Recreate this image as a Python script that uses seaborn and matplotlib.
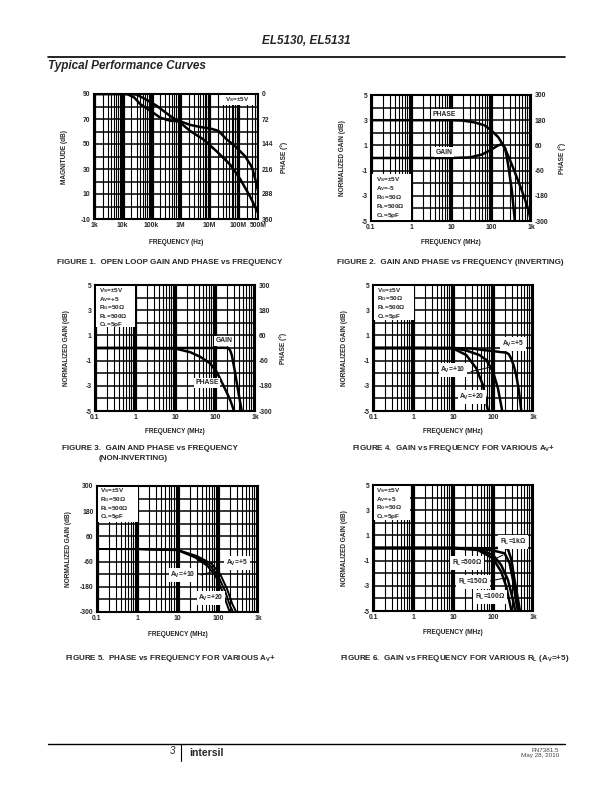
"""
Typical performance curves page (EL5130, EL5131), redrawn with seaborn.
"""
import numpy as np
import matplotlib
matplotlib.use('Agg')
import matplotlib.pyplot as plt
from matplotlib.lines import Line2D
from matplotlib.patches import Rectangle
from matplotlib.ticker import FixedLocator, LogLocator, NullFormatter
import seaborn as sns

# ---- Figure 1: open loop gain (dB) and phase (deg) vs frequency (Hz)
f1_mag = [1e3, 1e4, 2e4, 3e4, 6e4, 1.5e5, 4.4e5, 1e6, 2.2e6, 6.3e6, 1.8e7,
          5.4e7, 1.2e8, 2.65e8, 5e8]
mag1 = [90, 90, 89.8, 89.5, 86, 80.6, 72.5, 67, 60.4, 53.7, 44.3, 33.5, 22,
        8, -5]
f1_ph = [1e3, 1.4e4, 2.5e4, 4e4, 9e4, 2e5, 4.4e5, 1e6, 2.2e6, 4.9e6, 1.07e7,
         2.1e7, 4.1e7, 7.9e7, 1.77e8, 2.8e8, 3.2e8, 4e8, 5e8]
phase1 = [0, 0, 10, 29, 48, 68, 77, 79, 89, 95, 99, 106, 131, 150, 179, 205,
          215, 245, 278]

# ---- Figure 2: inverting gain (dB) and phase (deg), MHz
f2_gain = [0.1, 1, 10, 30, 60, 100, 150, 190, 225, 270, 330, 395]
gain2 = [0, 0, 0, 0.05, 0.28, 0.65, 1.0, 1.1, 0.8, -0.6, -2.5, -5]
f2_ph = [0.1, 1, 10, 20, 40, 70, 105, 150, 185, 230, 270, 330, 400, 480,
         580, 700, 860, 1000]
phase2 = [180, 180, 180, 178, 169, 155, 129, 100, 73, 40, 9, -30, -71, -110,
          -151, -195, -247, -300]

# ---- Figure 3: non-inverting gain (dB) and phase (deg), MHz
f3_gain = [0.1, 1, 10, 100, 150, 215, 240, 263, 316, 383, 466]
gain3 = [0, 0, 0, 0, 0.02, 0, -0.2, -0.56, -1.9, -3.5, -5]
f3_ph = [0.1, 1, 10, 24, 42, 75, 110, 160, 200, 240, 300]
phase3 = [0, 0, -2, -20, -41, -73, -113, -176, -215, -248, -300]

# ---- Figure 4: gain for various Av+
f4_av5 = [0.1, 1, 10, 30, 100, 215, 250, 282, 330, 380, 440, 510]
g4_av5 = [0, 0, 0, -0.05, -0.25, -0.37, -0.5, -0.82, -1.4, -2.14, -3.3, -5]
f4_av10 = [0.1, 1, 10, 21.5, 46, 68, 100, 133, 170]
g4_av10 = [0, 0, 0, -0.2, -0.56, -0.95, -1.88, -3.2, -5]
f4_av20 = [0.1, 1, 10, 21.5, 38, 56, 75]
g4_av20 = [0, 0, -0.03, -0.56, -1.6, -2.94, -5]

# ---- Figure 5: phase for various Av+
f5_av5 = [0.1, 1, 10, 30, 70, 115, 170, 230, 288]
p5_av5 = [0, 0, -4, -33, -70, -120, -190, -262, -300]
f5_av10 = [0.1, 1, 10, 29, 63, 100, 150, 200, 240]
p5_av10 = [0, 0, -5, -37, -77, -125, -197, -268, -300]
f5_av20 = [0.1, 1, 10, 27, 55, 88, 130, 170, 198]
p5_av20 = [0, -1, -6, -40, -80, -128, -200, -265, -300]

# ---- Figure 6: gain for various RL (Av=+5)
f6_1k = [0.1, 1, 10, 100, 200, 237, 290, 345, 425, 470]
g6_1k = [0, 0, 0, -0.02, 0.05, -0.1, -0.95, -2.54, -4.13, -5]
f6_500 = [0.1, 1, 10, 50, 100, 195, 260, 316, 385, 420]
g6_500 = [0, 0, 0, -0.08, -0.2, -0.42, -1.2, -2.54, -4.4, -5]
f6_150 = [0.1, 1, 10, 42, 100, 160, 237, 316, 360]
g6_150 = [0, 0, 0, -0.08, -0.56, -1.35, -2.54, -4.13, -5]
f6_100 = [0.1, 1, 10, 42, 100, 160, 215, 290]
g6_100 = [0, 0, -0.02, -0.16, -0.82, -1.88, -3.07, -5]

# tick values / labels
hz_ticks = [1e3, 1e4, 1e5, 1e6, 1e7, 1e8, 5e8]
hz_labels = ['1k', '10k', '100k', '1M', '10M', '100M', '500M']
mhz_ticks = [0.1, 1, 10, 100, 1000]
mhz_labels = ['0.1', '1', '10', '100', '1k']
db_ticks = [-5, -3, -1, 1, 3, 5]
db_labels = ['-5', '-3', '-1', '1', '3', '5']
deg_ticks = [-300, -180, -60, 60, 180, 300]
deg_labels = ['-300', '-180', '-60', '60', '180', '300']

sns.set_style('white')
plt.rcParams['font.family'] = ['Liberation Sans', 'DejaVu Sans']
plt.rcParams['font.weight'] = 'bold'
plt.rcParams['mathtext.fontset'] = 'custom'
plt.rcParams['mathtext.rm'] = 'Liberation Sans:bold'
plt.rcParams['mathtext.it'] = 'Liberation Sans:bold'
plt.rcParams['mathtext.default'] = 'rm'

W, H = 612, 792
fig = plt.figure(figsize=(W / 100, H / 100), dpi=100)
TICK = 4.9
NOTE = 4.9
COND = 4.6
LAB = 4.7
LW = 1.8


def rect(l, t, r, b):
    return [l / W, 1 - b / H, (r - l) / W, (b - t) / H]


def put(x, y, s, **kw):
    kw.setdefault('ha', 'center')
    kw.setdefault('va', 'center')
    kw.setdefault('fontsize', LAB)
    fig.text(x / W, 1 - y / H, s, **kw)


def leader(x0, y0, x1, y1):
    fig.add_artist(Line2D([x0 / W, x1 / W], [1 - y0 / H, 1 - y1 / H],
                          color='k', lw=0.7))


def condition_box(l, t, r, b, x, y0, step, lines):
    # white block over the grid with the test conditions
    fig.add_artist(Rectangle((l / W, 1 - b / H), (r - l) / W, (b - t) / H,
                             transform=fig.transFigure, fc='white',
                             ec='none', zorder=2))
    for i, s in enumerate(lines):
        put(x, y0 + i * step, s, ha='left', va='baseline', fontsize=COND,
            zorder=3)


def panel(box, xlim, ylim, xticks, xlabels, yticks, ylabels, ygrid):
    ax = fig.add_axes(rect(*box))
    ax.set_xscale('log')
    ax.set_xlim(*xlim)
    ax.set_ylim(*ylim)
    ax.set_xticks(xticks, labels=xlabels)
    ax.xaxis.set_minor_locator(LogLocator(base=10, subs=np.arange(2, 10),
                                          numticks=30))
    ax.xaxis.set_minor_formatter(NullFormatter())
    ax.set_yticks(yticks, labels=ylabels)
    ax.yaxis.set_minor_locator(FixedLocator(ygrid))
    ax.grid(True, which='major', axis='x', color='k', lw=2.3)
    ax.grid(True, which='minor', axis='x', color='k', lw=0.8)
    ax.grid(True, which='both', axis='y', color='k', lw=1.1)
    ax.set_axisbelow(True)
    ax.tick_params(which='both', length=0, pad=2.5, labelsize=TICK)
    for sp in ax.spines.values():
        sp.set_color('k')
        sp.set_linewidth(1.5)
    return ax


def twin(ax, ylim, ticks, labels):
    ax2 = ax.twinx()
    ax2.set_ylim(*ylim)
    ax2.set_yticks(ticks, labels=labels)
    ax2.tick_params(length=0, pad=2.5, labelsize=TICK)
    ax2.grid(False)
    for sp in ax2.spines.values():
        sp.set_visible(False)
    return ax2


def curve(ax, x, y, lw=LW):
    sns.lineplot(x=x, y=y, ax=ax, color='k', lw=lw, legend=False, sort=False)
    ax.set_xlabel('')
    ax.set_ylabel('')


box_kw = dict(boxstyle='square,pad=0.25', fc='white', ec='none')

# ---------------- Figure 1
ax1 = panel((94, 94, 258, 219), (1e3, 5e8), (-10, 90), hz_ticks, hz_labels,
            [-10, 10, 30, 50, 70, 90], ['-10', '10', '30', '50', '70', '90'],
            [0, 20, 40, 60, 80])
curve(ax1, f1_mag, mag1)
ax1.set_xlim(1e3, 5e8)
ax1b = twin(ax1, (360, 0), [0, 72, 144, 216, 288, 360],
            ['0', '72', '144', '216', '288', '360'])
curve(ax1b, f1_ph, phase1)
ax1b.set_ylim(360, 0)
condition_box(222, 95, 254, 105, 225, 101.5, 0, ['V$_S$=±5V'])
put(176, 242, 'FREQUENCY (Hz)')
put(65, 157, 'MAGNITUDE (dB)', rotation=90)
put(284, 157, 'PHASE (°)', rotation=90)
put(170, 262, 'FIGURE 1.  OPEN LOOP GAIN AND PHASE vs FREQUENCY', fontsize=5.8)

# ---------------- Figure 2
ax2 = panel((371, 95, 531, 221), (0.1, 1000), (-5, 5), mhz_ticks, mhz_labels,
            db_ticks, db_labels, [-4, -2, 0, 2, 4])
curve(ax2, f2_gain, gain2)
ax2b = twin(ax2, (-300, 300), deg_ticks, deg_labels)
curve(ax2b, f2_ph, phase2)
ax2b.set_ylim(-300, 300)
put(444, 114, 'PHASE', fontsize=NOTE, bbox=box_kw)
put(444, 152, 'GAIN', fontsize=NOTE, bbox=box_kw)
condition_box(372, 174, 411, 220, 376, 181, 9,
              ['V$_S$=±5V', 'A$_V$=-5', 'R$_G$=50Ω', 'R$_L$=500Ω', 'C$_L$=5pF'])
put(451, 243, 'FREQUENCY (MHz)')
put(343, 158, 'NORMALIZED GAIN (dB)', rotation=90)
put(562, 158, 'PHASE (°)', rotation=90)
put(450, 263, 'FIGURE 2.  GAIN AND PHASE vs FREQUENCY (INVERTING)',
    fontsize=5.8)

# ---------------- Figure 3
ax3 = panel((95, 285, 255, 411), (0.1, 1000), (-5, 5), mhz_ticks, mhz_labels,
            db_ticks, db_labels, [-4, -2, 0, 2, 4])
curve(ax3, f3_gain, gain3)
ax3b = twin(ax3, (-300, 300), deg_ticks, deg_labels)
curve(ax3b, f3_ph, phase3)
ax3b.set_ylim(-300, 300)
condition_box(96, 286, 135, 327, 99, 292.5, 8.4,
              ['V$_S$=±5V', 'A$_V$=+5', 'R$_G$=50Ω', 'R$_L$=500Ω', 'C$_L$=5pF'])
put(224, 341, 'GAIN', fontsize=NOTE, bbox=box_kw)
put(207, 383, 'PHASE', fontsize=NOTE, bbox=box_kw)
put(175, 432, 'FREQUENCY (MHz)')
put(67, 348, 'NORMALIZED GAIN (dB)', rotation=90)
put(283, 348, 'PHASE (°)', rotation=90)
put(62, 448, 'FIGURE 3.  GAIN AND PHASE vs FREQUENCY', ha='left', fontsize=5.8)
put(99, 458, '(NON-INVERTING)', ha='left', fontsize=5.8)

# ---------------- Figure 4
ax4 = panel((373, 285, 533, 411), (0.1, 1000), (-5, 5), mhz_ticks, mhz_labels,
            db_ticks, db_labels, [-4, -2, 0, 2, 4])
curve(ax4, f4_av5, g4_av5)
curve(ax4, f4_av10, g4_av10)
curve(ax4, f4_av20, g4_av20)
condition_box(374, 286, 414, 320, 377, 292, 8.5,
              ['V$_S$=±5V', 'R$_G$=50Ω', 'R$_L$=500Ω', 'C$_L$=5pF'])
put(513, 344, 'A$_V$=+5', fontsize=NOTE, bbox=box_kw)
put(453, 370, 'A$_V$=+10', fontsize=NOTE, bbox=box_kw)
put(472, 397, 'A$_V$=+20', fontsize=NOTE, bbox=box_kw)
leader(471, 371.5, 489, 367.5)
put(453, 432, 'FREQUENCY (MHz)')
put(345, 348, 'NORMALIZED GAIN (dB)', rotation=90)
put(454, 448, 'FIGURE 4.  GAIN vs FREQUENCY FOR VARIOUS A$_V$+', fontsize=5.8)

# ---------------- Figure 5
ax5 = panel((97, 486, 258, 612), (0.1, 1000), (-300, 300), mhz_ticks,
            mhz_labels, deg_ticks, deg_labels, [-240, -120, 0, 120, 240])
curve(ax5, f5_av5, p5_av5, lw=1.4)
curve(ax5, f5_av10, p5_av10, lw=1.4)
curve(ax5, f5_av20, p5_av20, lw=1.4)
condition_box(98, 487, 138, 522, 100, 492.5, 8.6,
              ['V$_S$=±5V', 'R$_G$=50Ω', 'R$_L$=500Ω', 'C$_L$=5pF'])
put(237, 563, 'A$_V$=+5', fontsize=NOTE, bbox=box_kw)
put(183, 575, 'A$_V$=+10', fontsize=NOTE, bbox=box_kw)
put(211, 598, 'A$_V$=+20', fontsize=NOTE, bbox=box_kw)
leader(201, 575, 213, 571.5)
put(178, 634, 'FREQUENCY (MHz)')
put(68, 549, 'NORMALIZED GAIN (dB)', rotation=90)
put(170, 658, 'FIGURE 5.  PHASE vs FREQUENCY FOR VARIOUS A$_V$+', fontsize=5.8)

# ---------------- Figure 6
ax6 = panel((373, 485, 533, 611), (0.1, 1000), (-5, 5), mhz_ticks, mhz_labels,
            db_ticks, db_labels, [-4, -2, 0, 2, 4])
curve(ax6, f6_1k, g6_1k)
curve(ax6, f6_500, g6_500)
curve(ax6, f6_150, g6_150)
curve(ax6, f6_100, g6_100)
condition_box(374, 486, 410, 520, 376, 492, 8.6,
              ['V$_S$=±5V', 'A$_V$=+5', 'R$_G$=50Ω', 'C$_L$=5pF'])
put(513, 542, 'R$_L$=1kΩ', fontsize=NOTE, bbox=box_kw)
put(467, 563, 'R$_L$=500Ω', fontsize=NOTE, bbox=box_kw)
put(473, 582, 'R$_L$=150Ω', fontsize=NOTE, bbox=box_kw)
put(490, 597, 'R$_L$=100Ω', fontsize=NOTE, bbox=box_kw)
leader(489, 562, 503, 555)
leader(490, 581, 507, 577.5)
put(453, 633, 'FREQUENCY (MHz)')
put(345, 548, 'NORMALIZED GAIN (dB)', rotation=90)
put(455, 658, 'FIGURE 6.  GAIN vs FREQUENCY FOR VARIOUS R$_L$ (A$_V$=+5)',
    fontsize=5.8)

# ---------------- page header / footer
put(306, 41, 'EL5130, EL5131', fontsize=8.5, style='italic')
fig.add_artist(Line2D([48 / W, 565 / W], [1 - 57 / H, 1 - 57 / H],
                      color='k', lw=1.2))
put(48, 66, 'Typical Performance Curves', ha='left', fontsize=8.5,
    style='italic')
fig.add_artist(Line2D([48 / W, 565 / W], [1 - 744 / H, 1 - 744 / H],
                      color='k', lw=1.0))
fig.add_artist(Line2D([181 / W, 181 / W], [1 - 744 / H, 1 - 761 / H],
                      color='k', lw=0.8))
put(172, 751, '3', fontsize=7, style='italic', fontweight='normal')
put(189, 753, 'intersil', ha='left', fontsize=7.5)
put(559, 750, 'FN7381.5', ha='right', fontsize=4.5, fontweight='normal',
    color='#444444')
put(559, 756, 'May 28, 2010', ha='right', fontsize=4.5, fontweight='normal',
    color='#444444')

fig.savefig('out.png', dpi=100)
